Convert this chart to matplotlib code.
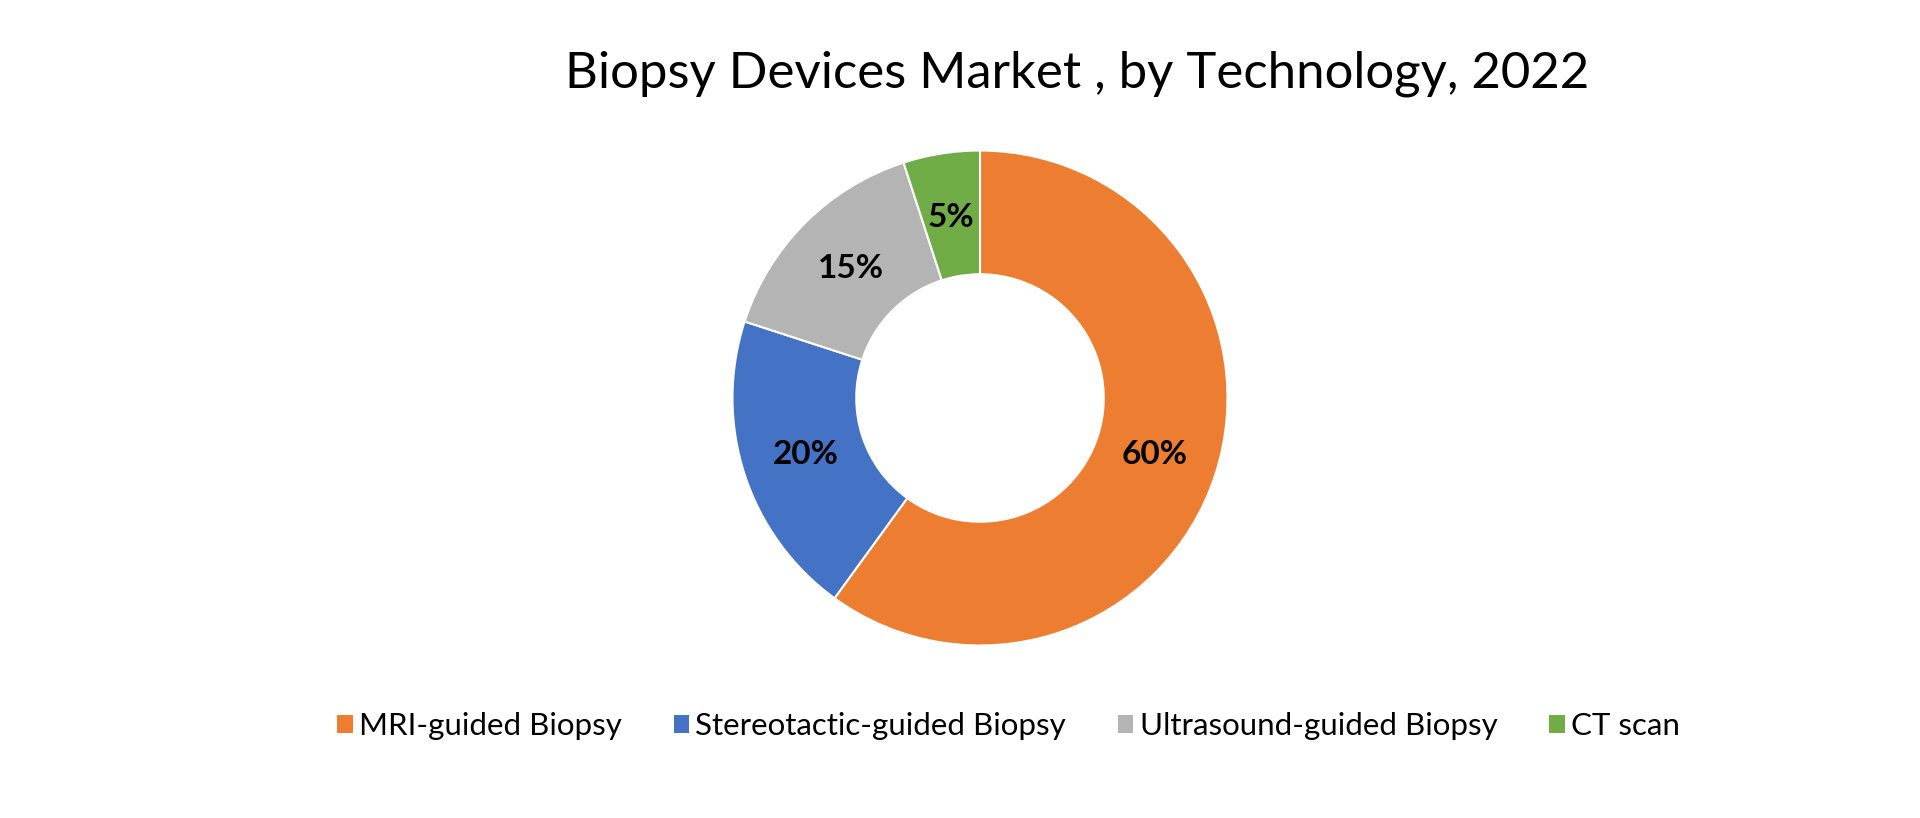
import matplotlib
matplotlib.use("Agg")
import matplotlib.pyplot as plt
from matplotlib.patches import Patch
import numpy as np

title = "Biopsy Devices Market , by Technology, 2022"
categories = ["MRI-guided Biopsy", "Stereotactic-guided Biopsy", "Ultrasound-guided Biopsy", "CT scan"]
values = [60, 20, 15, 5]
labels = ["60%", "20%", "15%", "5%"]
colors = ["#ED7D31", "#4472C4", "#B4B4B4", "#70AD47"]

W, H = 1920, 818
fig = plt.figure(figsize=(W / 100, H / 100), dpi=100)
fig.patch.set_facecolor("white")

cx, cy, R = 980, 398, 247.5
ax = fig.add_axes([(cx - R) / W, (H - cy - R) / H, 2 * R / W, 2 * R / H])
wedges, _ = ax.pie(values, colors=colors, startangle=90, counterclock=False,
                   radius=1.0, wedgeprops=dict(width=0.5, edgecolor="white", linewidth=1.5))
for w, lab in zip(wedges, labels):
    mid = np.deg2rad((w.theta1 + w.theta2) / 2)
    ax.text(0.74 * np.cos(mid), 0.74 * np.sin(mid), lab, ha="center", va="center",
            fontsize=24, fontweight="bold", family=["Lato", "DejaVu Sans"], color="black")
ax.set_xlim(-1, 1)
ax.set_ylim(-1, 1)
ax.set_aspect("equal")
ax.axis("off")

fig.text(1077 / W, 1 - 74 / H, title, ha="center", va="center", fontsize=36.6,
         family=["Lato", "DejaVu Sans"], color="black")

handles = [Patch(facecolor=c, edgecolor="none") for c in colors]
fig.legend(handles, categories, loc="center", bbox_to_anchor=(0.5 * (339 + 1678) / W, 1 - 726 / H),
           ncol=4, frameon=False, prop=dict(family=["Lato", "DejaVu Sans"], size=22.5),
           handlelength=0.5, handleheight=0.5, handletextpad=0.2, columnspacing=1.65)

fig.savefig("out.png", dpi=100, facecolor="white")
